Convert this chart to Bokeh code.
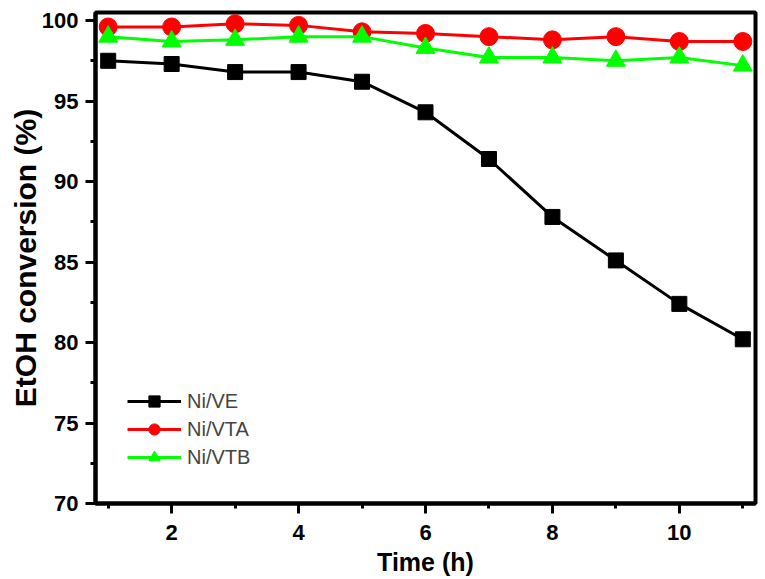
from bokeh.plotting import figure
from bokeh.models import FixedTicker, Range1d, Legend, LegendItem
from bokeh.embed import file_html
from bokeh.resources import INLINE

time_h = [1, 2, 3, 4, 5, 6, 7, 8, 9, 10, 11]
ni_ve = [97.5, 97.3, 96.8, 96.8, 96.2, 94.3, 91.4, 87.8, 85.1, 82.4, 80.2]
ni_vta = [99.6, 99.6, 99.8, 99.7, 99.3, 99.2, 99.0, 98.8, 99.0, 98.7, 98.7]
ni_vtb = [99.0, 98.7, 98.8, 99.0, 99.0, 98.3, 97.7, 97.7, 97.5, 97.7, 97.2]
x_ticks = [2, 4, 6, 8, 10]
x_minor = [1, 3, 5, 7, 9, 11]
y_ticks = [70, 75, 80, 85, 90, 95, 100]
y_minor = [72.5, 77.5, 82.5, 87.5, 92.5, 97.5]

FONT = "Liberation Sans"

p = figure(width=765, height=579, output_backend="svg", toolbar_location=None,
           x_range=Range1d(0.8, 11.2), y_range=Range1d(70, 100.5),
           min_border_left=95, min_border_top=12, min_border_right=10, min_border_bottom=76)
p.xgrid.visible = False
p.ygrid.visible = False
p.outline_line_color = "black"
p.outline_line_width = 4

p.xaxis.ticker = FixedTicker(ticks=x_ticks, minor_ticks=x_minor)
p.yaxis.ticker = FixedTicker(ticks=y_ticks, minor_ticks=y_minor)
for ax in (p.xaxis[0], p.yaxis[0]):
    ax.axis_line_width = 4
    ax.major_tick_line_width = 3
    ax.minor_tick_line_width = 3
    ax.major_tick_in = 0
    ax.major_tick_out = 10
    ax.minor_tick_in = 0
    ax.minor_tick_out = 5
    ax.major_label_text_font = FONT
    ax.major_label_text_font_style = "bold"
    ax.major_label_text_font_size = "22px"
    ax.major_label_text_color = "black"
    ax.axis_label_text_font = FONT
    ax.axis_label_text_font_style = "bold"
    ax.axis_label_text_color = "black"
p.xaxis.axis_label = "Time (h)"
p.yaxis.axis_label = "EtOH conversion (%)"
p.xaxis.axis_label_text_font_size = "25px"
p.yaxis.axis_label_text_font_size = "30px"
p.xaxis.major_label_standoff = 11
p.yaxis.major_label_standoff = 7
p.xaxis.axis_label_standoff = 5
p.yaxis.axis_label_standoff = -3

l1 = p.line(time_h, ni_ve, line_color="black", line_width=3)
s1 = p.scatter(time_h, ni_ve, marker="square", size=15, fill_color="black", line_color="black")
l2 = p.line(time_h, ni_vta, line_color="red", line_width=3)
s2 = p.scatter(time_h, ni_vta, marker="circle", size=18, fill_color="red", line_color="red")
l3 = p.line(time_h, ni_vtb, line_color="#00ff00", line_width=3)
s3 = p.scatter(time_h, ni_vtb, marker="triangle", size=19, fill_color="#00ff00", line_color="#00ff00")

legend = Legend(items=[
    LegendItem(label="Ni/VE", renderers=[l1, s1]),
    LegendItem(label="Ni/VTA", renderers=[l2, s2]),
    LegendItem(label="Ni/VTB", renderers=[l3, s3]),
], location=(28, 28))
legend.background_fill_alpha = 0
legend.border_line_alpha = 0
legend.label_text_font = FONT
legend.label_text_font_size = "20px"
legend.glyph_width = 54
legend.glyph_height = 28
legend.spacing = 0
legend.label_standoff = 6
legend.padding = 4
p.add_layout(legend)

open("out.html", "w").write(file_html(p, INLINE))
